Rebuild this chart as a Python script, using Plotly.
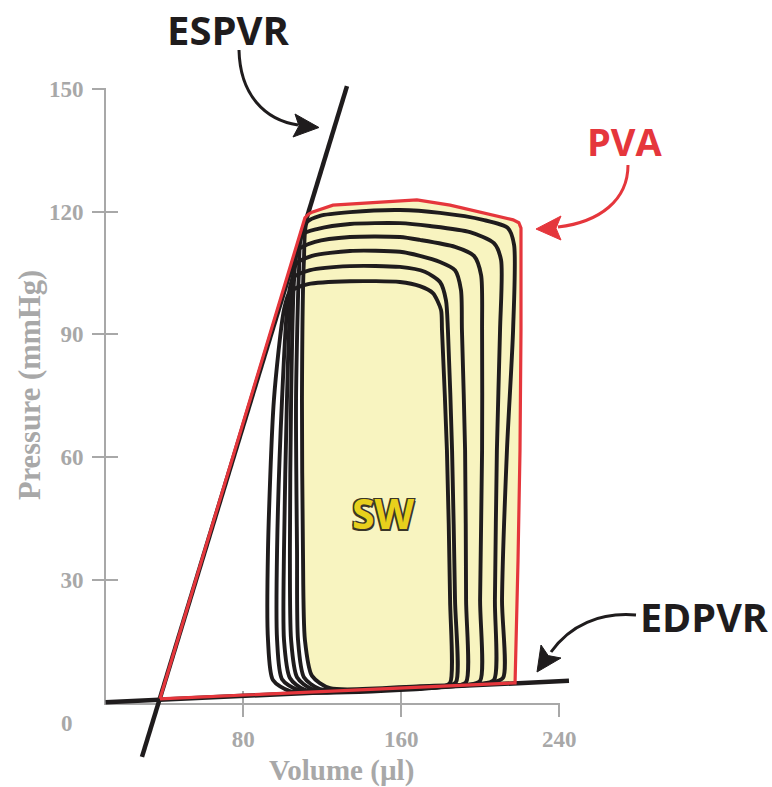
import plotly.graph_objects as go

W, H = 772, 787

# ---------------- data (volume in µl, pressure in mmHg) ----------------
x_tick_vals = [80, 160, 240]
y_tick_vals = [30, 60, 90, 120, 150]

espvr_vol = [28.7, 132.5]
espvr_pres = [-13.3, 150.7]

edpvr_vol = [10.3, 244.9]
edpvr_pres = [0.05, 5.3]

pva_vol = [37.8, 111.2, 113.0, 114.8, 125.4, 134.0, 150.7, 167.9, 184.7, 201.4,
           216.6, 219.5, 220.6, 220.6, 220.1, 219.1, 217.6, 37.8]
pva_pres = [0.9, 118.5, 119.4, 119.9, 121.6, 121.9, 122.4, 122.9, 121.6, 119.7,
            118.0, 117.3, 116.0, 91.1, 61.7, 34.8, 4.8, 0.9]

sw_vol = [111.2, 110.7, 109.7, 110.2, 111.2, 114.8, 123.9, 217.6, 219.1, 220.1,
          220.6, 220.6, 216.6, 201.4, 184.7, 167.9, 150.7, 125.4, 114.8, 111.2]
sw_pres = [118.5, 108.2, 74.0, 37.3, 15.3, 6.5, 2.8, 4.8, 34.8, 61.7,
           91.1, 116.5, 118.0, 119.7, 121.6, 122.9, 122.4, 121.6, 119.9, 118.5]

loop1_vol = [169.4, 204.9, 211.5, 211.0, 213.5, 216.6, 217.1, 214.0, 201.4, 179.6, 159.3,
             134.0, 118.8, 112.3, 110.7, 109.7, 110.2, 111.2, 114.8, 123.9, 169.4]
loop1_pres = [4.0, 4.8, 6.0, 25.1, 61.7, 91.1, 111.9, 116.0, 118.0, 119.7, 120.4,
              119.9, 119.0, 117.5, 108.2, 74.0, 37.3, 15.3, 6.5, 3.5, 4.0]

loop2_vol = [169.4, 199.9, 206.9, 207.4, 208.4, 210.0, 210.5, 206.9, 194.8, 174.5, 159.3,
             134.0, 117.8, 109.7, 108.2, 106.7, 107.2, 107.7, 110.7, 118.8, 169.4]
loop2_pres = [3.8, 4.5, 5.5, 25.1, 61.7, 91.1, 108.2, 112.3, 115.0, 116.5, 117.2,
              117.0, 115.8, 114.3, 105.7, 74.0, 37.3, 15.3, 6.2, 3.3, 3.8]

loop3_vol = [169.4, 193.8, 199.9, 199.9, 200.9, 200.9, 200.4, 196.8, 187.2, 169.4, 159.3,
             134.0, 116.3, 107.7, 105.7, 104.2, 103.6, 104.2, 107.2, 114.8, 169.4]
loop3_pres = [3.8, 4.3, 5.3, 25.1, 61.7, 91.1, 104.5, 109.2, 111.4, 113.1, 113.8,
              113.8, 112.6, 110.6, 103.3, 74.0, 37.3, 15.3, 6.2, 3.3, 3.8]

loop4_vol = [169.4, 187.2, 192.8, 192.8, 192.3, 190.7, 190.2, 187.2, 179.6, 169.4, 159.3,
             134.0, 114.8, 106.7, 104.2, 102.1, 100.6, 100.6, 103.6, 111.2, 169.4]
loop4_pres = [3.5, 4.0, 5.0, 25.1, 61.7, 91.1, 100.9, 105.7, 107.7, 109.2, 110.2,
              110.4, 109.2, 107.2, 100.9, 74.0, 37.3, 15.3, 6.0, 3.1, 3.5]

loop5_vol = [169.4, 183.1, 187.7, 187.2, 185.7, 183.6, 182.6, 179.6, 171.9, 159.3,
             134.0, 113.8, 105.2, 102.6, 99.6, 97.1, 97.1, 99.6, 107.7, 169.4]
loop5_pres = [3.5, 4.0, 5.0, 25.1, 61.7, 91.1, 98.4, 102.8, 105.3, 106.5,
              106.7, 105.7, 103.8, 98.4, 74.0, 37.3, 15.3, 5.7, 3.1, 3.5]

loop6_vol = [169.4, 180.6, 184.7, 184.7, 183.1, 180.6, 180.1, 176.0, 169.4, 159.3,
             134.0, 112.8, 103.6, 100.6, 95.5, 92.5, 92.5, 95.0, 103.6, 169.4]
loop6_pres = [3.3, 3.8, 4.8, 25.1, 61.7, 91.1, 96.0, 100.1, 101.8, 102.8,
              103.0, 102.3, 100.4, 96.0, 74.0, 37.3, 15.3, 5.5, 2.8, 3.3]

loops = [(loop1_vol, loop1_pres), (loop2_vol, loop2_pres), (loop3_vol, loop3_pres),
         (loop4_vol, loop4_pres), (loop5_vol, loop5_pres), (loop6_vol, loop6_pres)]

# ---------------- styling / layout geometry ----------------
GRAY = "#A8A8A8"
BLACK = "#1F1C1D"
RED = "#E5363C"
YELLOW = "#F8F4C0"
SW_GOLD = "#E8D01C"

X0_PX, XS = 85.3, 1.975      # px of volume 0, px per µl
Y0_PX, YS = 702.5, 4.09      # px of pressure 0, px per mmHg


def vx(px):
    return (px - X0_PX) / XS


def py_(py):
    return (Y0_PX - py) / YS


def paper(px, py):
    return px / W, 1 - py / H


serif = dict(family="Liberation Serif, Times New Roman, serif", color=GRAY, weight="bold")
sans = "Open Sans, Noto Sans, sans-serif"

fig = go.Figure()

dkw = dict(xaxis="x2", yaxis="y2", hoverinfo="skip", showlegend=False)

fig.add_trace(go.Scatter(x=sw_vol, y=sw_pres, mode="lines", fill="toself",
                         fillcolor=YELLOW, line=dict(width=0, color=YELLOW), **dkw))
fig.add_trace(go.Scatter(x=espvr_vol, y=espvr_pres, mode="lines",
                         line=dict(color=BLACK, width=4.5), **dkw))
fig.add_trace(go.Scatter(x=edpvr_vol, y=edpvr_pres, mode="lines",
                         line=dict(color=BLACK, width=4.5), **dkw))
for lv, lp in loops[::-1]:
    fig.add_trace(go.Scatter(x=lv, y=lp, mode="lines",
                             line=dict(color=BLACK, width=3.9, shape="spline", smoothing=0.7),
                             **dkw))
fig.add_trace(go.Scatter(x=pva_vol, y=pva_pres, mode="lines",
                         line=dict(color=RED, width=3.2), **dkw))

# dummy traces so the axis-only subplots are drawn
fig.add_trace(go.Scatter(x=[None], y=[None], xaxis="x", yaxis="y", showlegend=False, hoverinfo="skip"))
fig.add_trace(go.Scatter(x=[None], y=[None], xaxis="x3", yaxis="y3", showlegend=False, hoverinfo="skip"))

ax_x_px = (106, 560)
ax_y_px = (703, 88)
x_rng = [vx(ax_x_px[0]), vx(ax_x_px[1])]
y_rng = [py_(ax_y_px[0]), py_(ax_y_px[1])]
x_dom = [ax_x_px[0] / W, ax_x_px[1] / W]
y_dom = [1 - ax_y_px[0] / H, 1 - ax_y_px[1] / H]

common_tick = dict(showgrid=False, zeroline=False, tickcolor=GRAY, tickwidth=2, ticklen=12)

fig.update_layout(
    width=W, height=H,
    margin=dict(l=0, r=0, t=0, b=0, autoexpand=False),
    paper_bgcolor="white", plot_bgcolor="rgba(0,0,0,0)",
    showlegend=False,
    xaxis=dict(domain=x_dom, range=x_rng, anchor="y", showline=True, linecolor=GRAY, linewidth=2,
               ticks="outside", tickmode="array", tickvals=x_tick_vals,
               tickfont=dict(size=23, **serif), ticklabelstandoff=2, **common_tick),
    yaxis=dict(domain=y_dom, range=y_rng, anchor="x", showline=True, linecolor=GRAY, linewidth=2,
               ticks="outside", tickmode="array", tickvals=y_tick_vals,
               tickfont=dict(size=23, **serif), ticklabelstandoff=4, **common_tick),
    xaxis3=dict(overlaying="x", range=x_rng, anchor="y3", ticks="inside", tickmode="array",
                tickvals=x_tick_vals, showticklabels=False, showline=False, **common_tick),
    yaxis3=dict(overlaying="y", range=y_rng, anchor="x3", ticks="inside", tickmode="array",
                tickvals=y_tick_vals, showticklabels=False, showline=False, **common_tick),
    xaxis2=dict(domain=[0, 1], range=[vx(0), vx(W)], anchor="y2", visible=False),
    yaxis2=dict(domain=[0, 1], range=[py_(H), py_(0)], anchor="x2", visible=False),
)

# ---------------- annotations (text) ----------------
def text_ann(txt, px, py, size, color, family, weight="bold", angle=0, **kw):
    x, y = paper(px, py)
    fig.add_annotation(text=txt, x=x, y=y, xref="paper", yref="paper", showarrow=False,
                       xanchor="center", yanchor="middle", textangle=angle,
                       font=dict(size=size, color=color, family=family, weight=weight, **kw))


text_ann("ESPVR", 228, 29, 40, BLACK, sans)
text_ann("PVA", 625, 141, 38, RED, sans)
text_ann("EDPVR", 704, 617, 39.5, BLACK, sans)
text_ann("SW", 383, 513, 41, SW_GOLD, sans,
         shadow="-1.5px -1.5px 0 #3a3628, 1.5px -1.5px 0 #3a3628, -1.5px 1.5px 0 #3a3628, 1.5px 1.5px 0 #3a3628")
text_ann("0", 67, 723, 23, GRAY, serif["family"])
text_ann("Volume (µl)", 341, 770, 29, GRAY, serif["family"])
text_ann("Pressure (mmHg)", 30, 385, 30.5, GRAY, serif["family"], angle=-90)


# ---------------- curved arrows (decoration) ----------------
def path_px(cmds):
    out = []
    for c in cmds:
        if isinstance(c, str):
            out.append(c)
        else:
            x, y = paper(*c)
            out.append(f"{x:.5f},{y:.5f}")
    return " ".join(out)


def curved_arrow(p0, c1, c2, p1, tip, b1, b2, color):
    fig.add_shape(type="path", xref="paper", yref="paper",
                  path=path_px(["M", p0, "C", c1, c2, p1]),
                  line=dict(color=color, width=3))
    nx = (b1[0] + b2[0]) / 2 * 0.8 + tip[0] * 0.2
    ny = (b1[1] + b2[1]) / 2 * 0.8 + tip[1] * 0.2
    fig.add_shape(type="path", xref="paper", yref="paper",
                  path=path_px(["M", tip, "L", b1, "L", (nx, ny), "L", b2, "Z"]),
                  line=dict(color=color, width=1), fillcolor=color)


curved_arrow((239, 50), (240, 95), (265, 120), (298, 125),
             (319, 127.5), (295, 114), (293, 137), BLACK)
curved_arrow((628, 165), (628, 200), (600, 222), (558, 227),
             (536, 229), (561, 216), (561, 240), RED)
curved_arrow((636, 615), (600, 612), (570, 625), (551, 652),
             (537, 672), (541, 645), (561, 658), BLACK)

fig.write_html("out.html")
